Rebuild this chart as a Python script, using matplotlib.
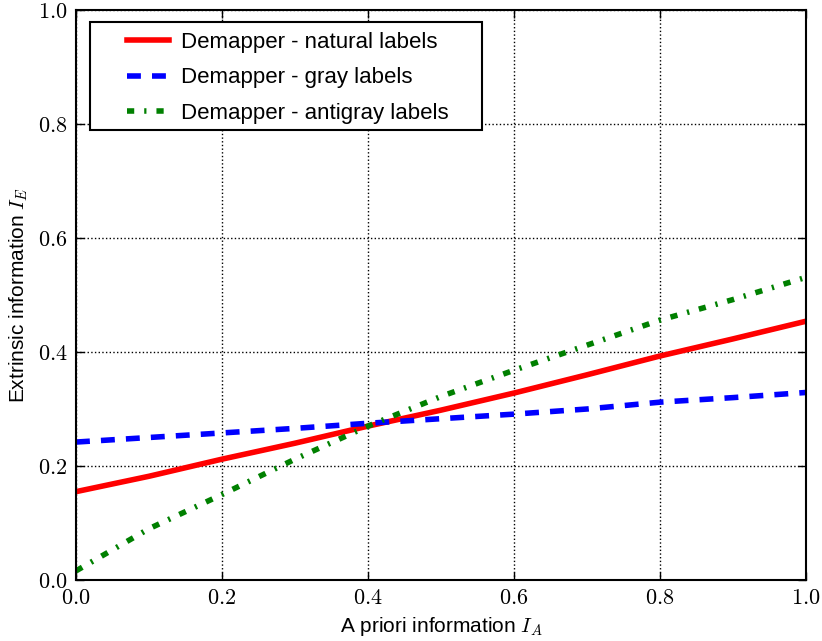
import numpy as np
import matplotlib
matplotlib.use("Agg")
import matplotlib.pyplot as plt
from matplotlib.patches import Rectangle

plt.rcParams['mathtext.fontset'] = 'cm'
plt.rcParams['font.family'] = ['Liberation Sans', 'DejaVu Sans']

x_vals = [0.0, 0.1, 0.2, 0.3, 0.4, 0.5, 0.6, 0.7, 0.8, 0.9, 1.0]
natural = [0.155, 0.182, 0.212, 0.240, 0.270, 0.298, 0.328, 0.360, 0.393, 0.423, 0.454]
gray = [0.242, 0.250, 0.258, 0.266, 0.275, 0.283, 0.291, 0.300, 0.312, 0.320, 0.329]
antigray = [0.016, 0.090, 0.150, 0.212, 0.270, 0.322, 0.368, 0.412, 0.456, 0.492, 0.531]
labels = ['Demapper - natural labels', 'Demapper - gray labels', 'Demapper - antigray labels']
ticks = [0.0, 0.2, 0.4, 0.6, 0.8, 1.0]

fig = plt.figure(figsize=(8.22, 6.41), dpi=100)
ax = fig.add_axes([76/822, 1 - 580/641, 730/822, 570/641])

ax.plot(x_vals, natural, color='red', lw=4, ls='-', label=labels[0])
ax.plot(x_vals, gray, color='blue', lw=4, ls=(0, (2.5, 2)), label=labels[1])
ax.plot(x_vals, antigray, color='green', lw=4, ls=(0, (1.3, 1.8, 0.4, 1.8)), label=labels[2])

ax.set_xlim(0, 1)
ax.set_ylim(0, 1)
ax.set_xticks(ticks)
ax.set_yticks(ticks)
ax.set_xticklabels([f'${t:.1f}$' for t in ticks], fontsize=16)
ax.set_yticklabels([f'${t:.1f}$' for t in ticks], fontsize=16)
ax.tick_params(direction='in', length=6, width=1, pad=6)
ax.tick_params(top=True, right=True)
ax.grid(True, color='black', ls=':', lw=1)
for s in ax.spines.values():
    s.set_linewidth(1.5)

ax.set_xlabel('A priori information $I_A$', fontsize=15, labelpad=4)
ax.set_ylabel('Extrinsic information $I_E$', fontsize=15, labelpad=6)

# legend frame (drawn manually for old-style wide padding)
box = Rectangle((14/730, (580 - 130)/570), (482 - 90)/730, (130 - 22)/570,
                transform=ax.transAxes, facecolor='white', edgecolor='black',
                lw=1.5, zorder=4)
ax.add_patch(box)

leg = ax.legend(loc='upper left', fontsize=16, frameon=False,
                handlelength=1.9, handletextpad=0.55, labelspacing=0.65,
                borderpad=0, borderaxespad=0,
                bbox_to_anchor=((127 - 76)/730, (580 - 32)/570))
leg.set_zorder(5)

fig.savefig('out.png', dpi=100)
